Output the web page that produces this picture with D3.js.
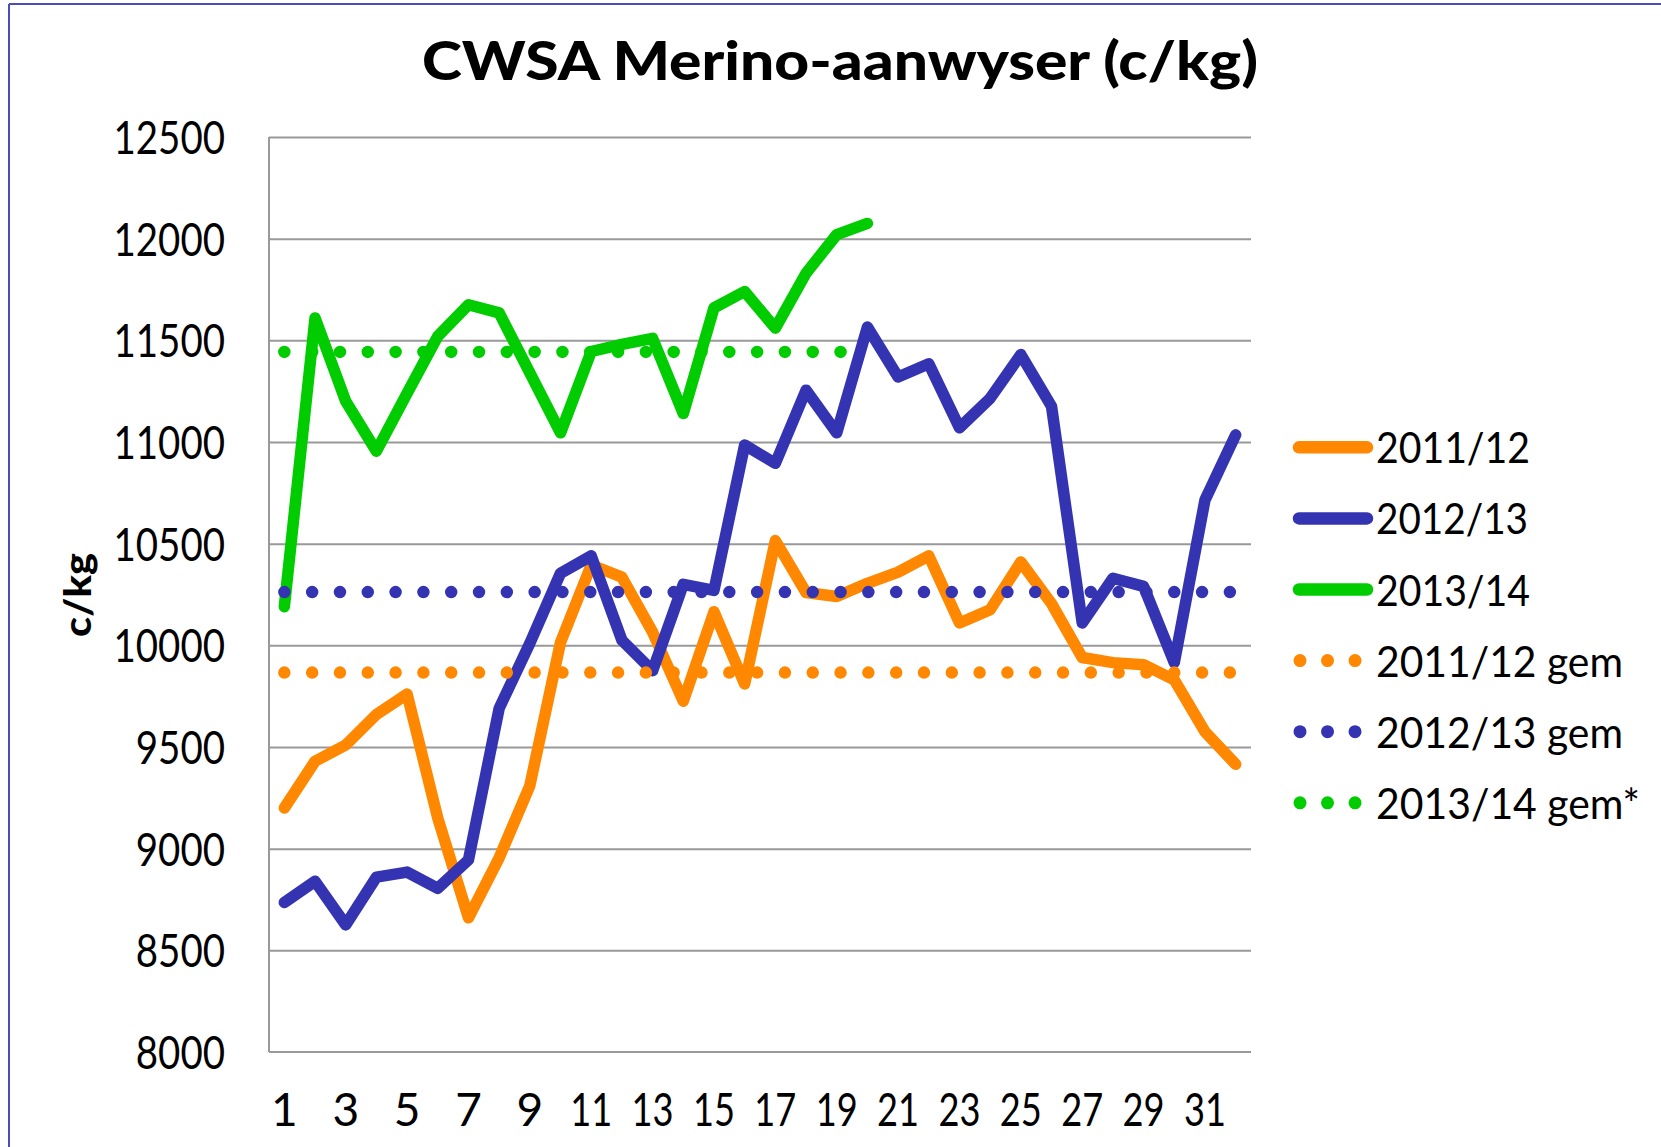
<!DOCTYPE html>
<html>
<head>
<meta charset="utf-8">
<script src="https://cdn.jsdelivr.net/npm/d3@7"></script>
<style>
  html, body { margin: 0; padding: 0; background: #fff; }
  svg { display: block; }
  text { font-family: Lato, "Open Sans", sans-serif; fill: #000; }
</style>
</head>
<body>
<svg id="chart" width="1661" height="1147"></svg>
<script>
// ---------------- data ----------------
const categories = [1,2,3,4,5,6,7,8,9,10,11,12,13,14,15,16,17,18,19,20,21,22,23,24,25,26,27,28,29,30,31,32];
const xTickLabels = [1,3,5,7,9,11,13,15,17,19,21,23,25,27,29,31];
const yTicks = [8000,8500,9000,9500,10000,10500,11000,11500,12000,12500];

const seriesNames = ["2011/12", "2012/13", "2013/14"];
const values2011 = [9200,9430,9510,9660,9760,9150,8660,8955,9310,10015,10395,10335,10065,9725,10165,9810,10515,10260,10240,10305,10360,10440,10110,10175,10410,10205,9940,9915,9905,9830,9575,9415];
const values2012 = [8735,8840,8625,8860,8885,8805,8945,9690,10010,10355,10440,10025,9875,10300,10270,10985,10895,11255,11045,11565,11320,11385,11070,11215,11430,11175,10110,10330,10290,9915,10715,11035];
const values2013 = [10190,11610,11200,10955,11240,11520,11675,11635,11340,11045,11445,11480,11510,11140,11660,11740,11560,11830,12020,12075];

const avgNames = ["2011/12 gem", "2012/13 gem", "2013/14 gem*"];
const avgValues = [9866, 10262, 11443];
const avgLastCategory = [32, 32, 20];

const colors = ["#ff8800", "#3434b2", "#00cc00"];

// ---------------- layout ----------------
(function () {
const svg = d3.select("#chart");
const pLeft = 269, pRight = 1251, pTop = 137, pBottom = 1052;

const x = d3.scaleBand().domain(categories).range([pLeft, pRight]).padding(0);
const cx = c => x(c) + x.bandwidth() / 2;
const y = d3.scaleLinear().domain([8000, 12500]).range([pBottom, pTop]);

// border (slide frame)
svg.append("line").attr("x1", 9).attr("x2", 9).attr("y1", 4).attr("y2", 1147)
  .attr("stroke", "#4b4bbb").attr("stroke-width", 2);
svg.append("line").attr("x1", 9).attr("x2", 1661).attr("y1", 4).attr("y2", 4)
  .attr("stroke", "#4b4bbb").attr("stroke-width", 2);

// title
svg.append("text")
  .attr("x", 840).attr("y", 80)
  .attr("text-anchor", "middle")
  .attr("font-size", 54).attr("font-weight", 900)
  .attr("textLength", 836).attr("lengthAdjust", "spacingAndGlyphs")
  .text("CWSA Merino-aanwyser (c/kg)");

// gridlines
const grid = svg.append("g").attr("transform", `translate(${pLeft},0)`)
  .call(d3.axisLeft(y).tickValues(yTicks.filter(v => v > 8000)).tickSize(-(pRight - pLeft)).tickFormat(""));
grid.select(".domain").remove();
grid.selectAll(".tick line").attr("stroke", "#999").attr("stroke-width", 2);

// axis lines
svg.append("line").attr("x1", pLeft).attr("x2", pLeft).attr("y1", pTop).attr("y2", pBottom)
  .attr("stroke", "#999").attr("stroke-width", 2);
svg.append("line").attr("x1", pLeft).attr("x2", pRight).attr("y1", pBottom).attr("y2", pBottom)
  .attr("stroke", "#999").attr("stroke-width", 2);

// y tick labels
const yAxis = svg.append("g").attr("transform", `translate(${pLeft},0)`)
  .call(d3.axisLeft(y).tickValues(yTicks).tickSize(0).tickPadding(44).tickFormat(d => String(d)));
yAxis.select(".domain").remove();
yAxis.selectAll("text")
  .attr("font-size", 46).attr("dy", "0.36em")
  .attr("font-family", "Lato, sans-serif").attr("fill", "#000")
  .attr("textLength", d => String(d).length * 22.3)
  .attr("lengthAdjust", "spacingAndGlyphs");

// x tick labels
const xAxis = svg.append("g").attr("transform", `translate(0,${pBottom})`)
  .call(d3.axisBottom(x).tickValues(xTickLabels).tickSize(0).tickPadding(41));
xAxis.select(".domain").remove();
xAxis.selectAll("text")
  .attr("font-size", 46)
  .attr("font-family", "Lato, sans-serif").attr("fill", "#000");
xAxis.selectAll("text").filter(d => String(d).length > 1)
  .attr("textLength", 42).attr("lengthAdjust", "spacingAndGlyphs");

// y axis title
svg.append("text")
  .attr("transform", "translate(91,595) rotate(-90)")
  .attr("text-anchor", "middle")
  .attr("font-size", 37).attr("font-weight", 900)
  .attr("textLength", 84).attr("lengthAdjust", "spacingAndGlyphs")
  .text("c/kg");

// series lines
const line = d3.line().x(d => cx(d.c)).y(d => y(d.v));
const seriesValues = [values2011, values2012, values2013];
seriesValues.forEach((vals, i) => {
  svg.append("path")
    .datum(vals.map((v, j) => ({ c: categories[j], v })))
    .attr("d", line)
    .attr("fill", "none")
    .attr("stroke", colors[i])
    .attr("stroke-width", 11.5)
    .attr("stroke-linejoin", "round")
    .attr("stroke-linecap", "round");
});

// average (dotted) lines
avgValues.forEach((v, i) => {
  const cats = categories.filter(c => c <= avgLastCategory[i]);
  svg.append("path")
    .datum(cats.map(c => ({ c, v })))
    .attr("d", line)
    .attr("fill", "none")
    .attr("stroke", colors[i])
    .attr("stroke-width", 12.5)
    .attr("stroke-linecap", "round")
    .attr("stroke-dasharray", "0.01 27.8");
});

// legend
const legendNames = seriesNames.concat(avgNames);
const legendY0 = 447.3, legendStep = 71.1;
const legendTextLen = [154, 152, 154, 247, 247, 264];
legendNames.forEach((name, i) => {
  const ly = legendY0 + i * legendStep;
  const col = colors[i % 3];
  if (i < 3) {
    svg.append("line").attr("x1", 1299).attr("x2", 1367).attr("y1", ly).attr("y2", ly)
      .attr("stroke", col).attr("stroke-width", 12.5).attr("stroke-linecap", "round");
  } else {
    svg.append("line").attr("x1", 1300).attr("x2", 1370).attr("y1", ly).attr("y2", ly)
      .attr("stroke", col).attr("stroke-width", 13).attr("stroke-linecap", "round")
      .attr("stroke-dasharray", "0.01 27.5");
  }
  svg.append("text")
    .attr("x", 1376).attr("y", ly + 16)
    .attr("font-size", 43)
    .attr("textLength", legendTextLen[i]).attr("lengthAdjust", "spacingAndGlyphs")
    .text(name);
});
})();
</script>
</body>
</html>
